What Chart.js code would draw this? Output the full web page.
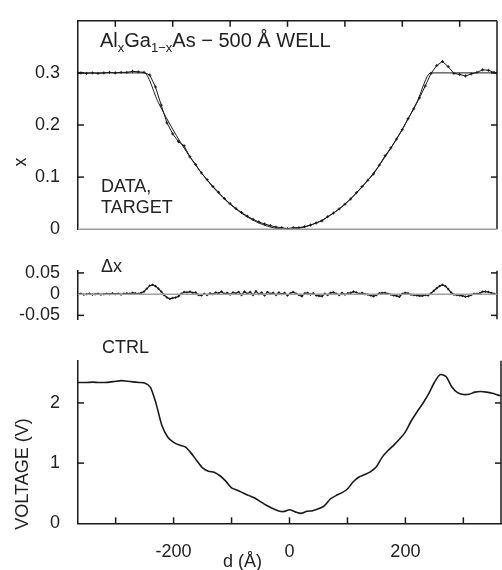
<!DOCTYPE html>
<html>
<head>
<meta charset="utf-8">
<script src="https://cdn.jsdelivr.net/npm/chart.js@4"></script>
<style>
  body { margin: 0; background: #fff; }
  #wrap { position: relative; width: 502px; height: 570px; font-family: "Liberation Sans", Arial, sans-serif; color: #222; }
  canvas { position: absolute; left: 0; }
  .t { position: absolute; font-size: 18px; line-height: 18px; white-space: nowrap; }
  .t sub { font-size: 12px; vertical-align: -4px; line-height: 0; }
  .title { font-size: 20px; line-height: 20px; }
  .title sub { font-size: 13px; vertical-align: -5px; }
  .rot { transform: translate(-50%, -50%) rotate(-90deg); }
</style>
</head>
<body>
<div id="wrap">
  <canvas id="cX" width="502" height="250" style="top:0"></canvas>
  <canvas id="cDx" width="502" height="90" style="top:250px"></canvas>
  <canvas id="cV" width="502" height="230" style="top:340px"></canvas>

  <div class="t title" style="left:100px;top:30px">Al<sub>x</sub>Ga<sub>1−x</sub>As − 500 Å WELL</div>
  <div class="t" style="left:101px;top:177px">DATA,</div>
  <div class="t" style="left:101px;top:198px">TARGET</div>
  <div class="t" style="left:101px;top:257px">Δx</div>
  <div class="t" style="left:102px;top:338px">CTRL</div>
  <div class="t" style="left:223px;top:552px">d (Å)</div>
  <div class="t rot" style="left:20px;top:162px">x</div>
  <div class="t rot" style="left:22px;top:474px">VOLTAGE (V)</div>
</div>

<script>
// ---- data (d in Å) ----
const targetD = [-365, -250, -225, -200, -175, -150, -125, -100, -75, -50, -25, 0,
                 25, 50, 75, 100, 125, 150, 175, 200, 225, 250, 365];
const targetX = [0.3, 0.3, 0.243, 0.192, 0.147, 0.108, 0.075, 0.048, 0.027, 0.012, 0.003, 0,
                 0.003, 0.012, 0.027, 0.048, 0.075, 0.108, 0.147, 0.192, 0.243, 0.3, 0.3];

// measured x, every 10 Å (plus the two edges)
const dataX = [0.300,
  0.300, 0.299, 0.300, 0.299, 0.300, 0.301, 0.300, 0.301, 0.301, 0.303, 0.302, 0.301,
  0.296, 0.273, 0.238, 0.204, 0.183, 0.168, 0.160, 0.139, 0.124, 0.108, 0.095, 0.082,
  0.071, 0.059, 0.049, 0.040, 0.032, 0.025, 0.019, 0.014, 0.010, 0.007, 0.004, 0.003,
  0.001,
  0.003, 0.003, 0.005, 0.008, 0.012, 0.016, 0.024, 0.031, 0.039, 0.048, 0.058, 0.070,
  0.082, 0.094, 0.106, 0.123, 0.141, 0.156, 0.173, 0.191, 0.212, 0.231, 0.252, 0.275,
  0.299, 0.314, 0.322, 0.312, 0.299, 0.297, 0.294, 0.298, 0.301, 0.306, 0.305, 0.301,
  0.300];

// difference data - target, every 5 Å
const deltaX = [
  0.000, 0.001, -0.001, 0.000, 0.001, -0.001, 0.000, 0.001, -0.001, 0.000, 0.001, 0.000,
  0.002, 0.000, 0.001, -0.001, 0.001, 0.002, 0.001, 0.003, 0.002, 0.001, 0.003,
  0.006, 0.013, 0.020, 0.022, 0.019, 0.013, 0.006, -0.002, -0.008, -0.011, -0.009, -0.008,
  -0.005, 0.001, 0.005, 0.004, 0.006, 0.003, 0.004, -0.002, -0.003, 0.001, -0.002, 0.002,
  0.000, 0.004, 0.002, 0.006, 0.001, 0.003, -0.001, 0.004, 0.002, 0.005, -0.002, 0.006,
  0.001, 0.005, -0.002, 0.007, 0.000, 0.004, -0.003, 0.005, 0.001, 0.003, -0.002, 0.004,
  0.000, 0.003, -0.003,
  0.002, 0.005, 0.001, -0.002, -0.005, 0.002, 0.003, -0.001, 0.002, -0.003, -0.004, -0.005,
  0.001, -0.002, 0.003, 0.004, 0.001, -0.002, 0.003, -0.001, 0.002, 0.003, 0.006, 0.004,
  0.001, 0.003, 0.000, -0.001, -0.003, -0.005, -0.002, 0.002, 0.003, 0.003, 0.001, -0.001,
  -0.003, -0.004, -0.006, 0.001, 0.003, 0.002, -0.001, -0.002, -0.003, -0.004, -0.004, -0.002,
  -0.003, 0.002, 0.008, 0.014, 0.019, 0.022, 0.019, 0.012, 0.004, -0.001, -0.002, -0.003,
  -0.004, -0.006, -0.005, -0.002, 0.001, 0.001, 0.002, 0.006, 0.006, 0.005, 0.003, 0.001,
  -0.001];

// control voltage, every 10 Å (plus the two edges)
const ctrlV = [2.34,
  2.34, 2.34, 2.345, 2.34, 2.34, 2.345, 2.36, 2.37, 2.36, 2.35, 2.34, 2.33,
  2.26, 1.98, 1.62, 1.43, 1.345, 1.30, 1.27, 1.17, 1.04, 0.92, 0.865, 0.85,
  0.79, 0.70, 0.59, 0.55, 0.505, 0.46, 0.42, 0.36, 0.30, 0.25, 0.21, 0.195,
  0.225,
  0.19, 0.165, 0.20, 0.21, 0.24, 0.29, 0.40, 0.46, 0.505, 0.57, 0.69, 0.77,
  0.81, 0.86, 0.94, 1.10, 1.21, 1.30, 1.40, 1.52, 1.70, 1.85, 1.99, 2.15,
  2.34, 2.47, 2.44, 2.27, 2.17, 2.14, 2.145, 2.18, 2.19, 2.18, 2.16, 2.13,
  2.12];

const xTicksMinor = [-300, -200, -100, 0, 100, 200, 300];
const xTickLabels = [-200, 0, 200];
const xAxisTicks = [0, 0.1, 0.2, 0.3];
const dxAxisTicks = [-0.05, 0, 0.05];
const vAxisTicks = [0, 1, 2];

const INK = '#1a1a1a';
const FONT = { family: '"Liberation Sans", Arial, sans-serif', size: 18 };

// d grid from -365 to 365 (edges plus multiples of step)
function grid(step) {
  const g = [-365];
  for (let d = -360; d <= 360; d += step) if (d !== -365 && d !== 365) g.push(d);
  g.push(365);
  return g;
}
const pts = (ds, vs) => ds.map((d, i) => ({ x: d, y: vs[i] }));

// inward ticks + extra frame lines
const framePlugin = {
  id: 'frame',
  afterDraw(chart, args, opts) {
    const { ctx, chartArea: a, scales } = chart;
    const L = 6;
    ctx.save();
    ctx.lineWidth = 1.5;
    const seg = (x1, y1, x2, y2, c) => {
      ctx.strokeStyle = c || INK;
      ctx.beginPath(); ctx.moveTo(x1, y1); ctx.lineTo(x2, y2); ctx.stroke();
    };
    (opts.sides || []).forEach(s => {
      if (s.side === 'top') seg(a.left, a.top, a.right, a.top, s.color);
      if (s.side === 'right') seg(a.right, a.top, a.right, a.bottom, s.color);
      if (s.side === 'bottom') seg(a.left, a.bottom, a.right, a.bottom, s.color);
      if (s.side === 'zero') {
        const y = scales.y.getPixelForValue(0);
        seg(a.left, y, a.right, y, s.color);
      }
    });
    (opts.left || []).forEach(v => { const y = scales.y.getPixelForValue(v); seg(a.left, y, a.left + L, y); });
    (opts.right || []).forEach(v => { const y = scales.y.getPixelForValue(v); seg(a.right, y, a.right - L, y); });
    (opts.top || []).forEach(v => { const x = scales.x.getPixelForValue(v); seg(x, a.top, x, a.top + L); });
    (opts.bottom || []).forEach(v => { const x = scales.x.getPixelForValue(v); seg(x, a.bottom, x, a.bottom - L); });
    ctx.restore();
  }
};

function yScale(min, max, ticks) {
  return {
    min, max,
    afterFit: s => { s.width = 78; },
    afterBuildTicks: s => { s.ticks = ticks.map(value => ({ value })); },
    grid: { display: false },
    border: { display: true, color: INK, width: 1.5 },
    ticks: { color: '#222', font: FONT, padding: 10, callback: v => String(v) }
  };
}

function baseOptions(pad, y, frame, xDisplay) {
  return {
    responsive: false,
    animation: false,
    devicePixelRatio: 1,
    layout: { padding: pad },
    plugins: { legend: { display: false }, tooltip: { enabled: false }, frame },
    scales: {
      x: xDisplay || { type: 'linear', min: -365, max: 365, display: false },
      y
    }
  };
}

// -------------------------------
// TOP: x(d), data and target
// -------------------------------
new Chart(document.getElementById('cX'), {
  type: 'line',
  data: {
    datasets: [
      { data: pts(targetD, targetX), borderColor: INK, borderWidth: 1, pointRadius: 0,
        cubicInterpolationMode: 'monotone' },
      { data: pts(grid(10), dataX), borderColor: INK, borderWidth: 1, pointRadius: 1.5,
        pointStyle: 'cross', pointBorderColor: INK, pointBorderWidth: 1 }
    ]
  },
  options: baseOptions({ top: 16, bottom: 7, right: 1 }, yScale(0, 0.4, xAxisTicks),
    { sides: [{ side: 'top' }, { side: 'right' }, { side: 'bottom', color: '#9a9a9a' }],
      left: [0.1, 0.2, 0.3], right: [0.1, 0.2, 0.3], top: xTicksMinor }),
  plugins: [framePlugin]
});

// -------------------------------
// MIDDLE: delta x
// -------------------------------
new Chart(document.getElementById('cDx'), {
  type: 'line',
  data: {
    datasets: [
      { data: pts(grid(5), deltaX), borderColor: INK, borderWidth: 1.2, pointRadius: 1.2,
        pointStyle: 'cross', pointBorderColor: INK, pointBorderWidth: 1 }
    ]
  },
  options: baseOptions({ top: 16.7, bottom: 10, right: 1 }, yScale(-0.059, 0.055, dxAxisTicks),
    { sides: [{ side: 'right' }, { side: 'zero', color: '#a0a0a0' }],
      left: [-0.05, 0.05], right: [-0.05, 0.05] }),
  plugins: [framePlugin]
});

// -------------------------------
// BOTTOM: control voltage
// -------------------------------
new Chart(document.getElementById('cV'), {
  type: 'line',
  data: {
    datasets: [
      { data: pts(grid(10), ctrlV), borderColor: INK, borderWidth: 1.6, pointRadius: 0, tension: 0.25 }
    ]
  },
  options: baseOptions({ top: 8.6, bottom: 0, right: 1 }, yScale(0, 2.7, vAxisTicks),
    { sides: [{ side: 'right' }], left: [1, 2], right: [1, 2], bottom: xTicksMinor },
    {
      type: 'linear', min: -365, max: 365,
      afterFit: s => { s.height = 46.7; },
      afterBuildTicks: s => { s.ticks = xTickLabels.map(value => ({ value })); },
      grid: { display: false },
      border: { display: true, color: INK, width: 1.5 },
      ticks: { color: '#222', font: FONT, padding: 10, maxRotation: 0, callback: v => String(v) }
    }),
  plugins: [framePlugin]
});
</script>
</body>
</html>
